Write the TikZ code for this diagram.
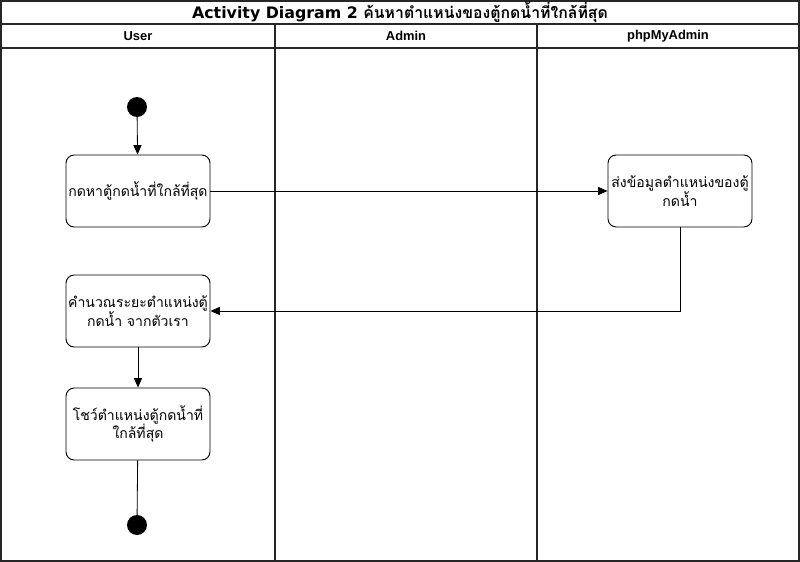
\documentclass[tikz,border=0pt]{standalone}
\usepackage{fontspec}
\setmainfont{Liberation Sans}
\newfontfamily\thaifont[Script=Thai]{Loma}
\newfontfamily\titlefont{DejaVu Sans}
\usetikzlibrary{arrows.meta, positioning}
\tikzset{
    lane/.style={draw=black!85, line width=1pt},
    headtext/.style={font=\bfseries\fontsize{11}{13}\selectfont},
    act/.style={draw=black, line width=0.8pt, fill=white, rounded corners=7pt, align=center, font=\thaifont\fontsize{12}{16}\selectfont, minimum width=4.32cm, minimum height=2.16cm, inner sep=1pt},
    dot/.style={circle, fill=black, minimum size=0.6cm, inner sep=0pt},
    arr/.style={-{Triangle[length=0.28cm, width=0.24cm]}, line width=0.7pt},
    plain/.style={line width=0.7pt}
}

\begin{document}
\begin{tikzpicture}[x=0.03cm, y=-0.03cm]
        \useasboundingbox (0,0) rectangle (800,562);
        % swimlanes
        \draw[lane] (1,1) rectangle (799,561);
        \draw[lane] (1,24) -- (799,24);
        \draw[lane] (1,48) -- (799,48);
        \draw[lane] (275,24) -- (275,561);
        \draw[lane] (537,24) -- (537,561);
        \node[font=\titlefont\bfseries\fontsize{13.5}{16}\selectfont] (title) at (400,12.5) {Activity Diagram 2 {\thaifont ค้นหาตำแหน่งของตู้กดน้ำที่ใกล้ที่สุด}};
        \node[headtext] (user) at (138,36) {User};
        \node[headtext] (admin) at (406,36) {Admin};
        \node[headtext] (pma) at (668,36) {phpMyAdmin};

        % activities
        \node[dot] (start) at (137,107) {};
        \node[act] (find) at (138,191) {กดหาตู้กดน้ำที่ใกล้ที่สุด};
        \node[act] (send) at (680,191) {ส่งข้อมูลตำแหน่งของตู้\\กดน้ำ};
        \node[act] (calc) at (138,311) {คำนวณระยะตำแหน่งตู้\\กดน้ำ จากตัวเรา};
        \node[act] (show) at (138,424) {โชว์ตำแหน่งตู้กดน้ำที่\\ใกล้ที่สุด};
        \node[dot] (stop) at (137,525) {};

        \draw[arr] (start) -- (find);
        \draw[arr] (find) -- (send);
        \draw[arr] (send.south) |- (calc.east);
        \draw[arr] (calc) -- (show);
        \draw[plain] (show) -- (stop);
\end{tikzpicture}
\end{document}
